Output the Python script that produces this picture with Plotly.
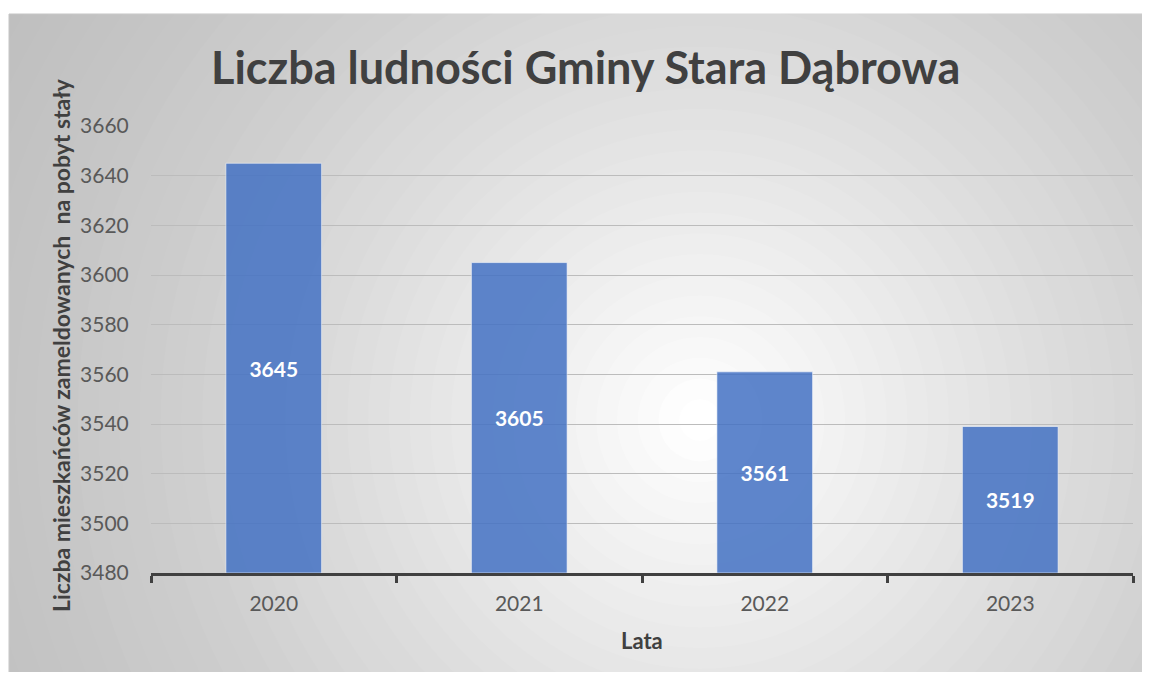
import plotly.graph_objects as go

# ---- data ----
years = ["2020", "2021", "2022", "2023"]
population = [3645, 3605, 3561, 3539]
labels = ["3645", "3605", "3561", "3519"]
y_ticks = [3480, 3500, 3520, 3540, 3560, 3580, 3600, 3620, 3640, 3660]
axis_base = 3480

title_text = "Liczba ludności Gminy Stara Dąbrowa"
y_title = "Liczba mieszkańców zameldowanych\u00a0 na pobyt stały"
x_title = "Lata"

# the page body has an 8px margin; size the figure so the page does not scroll
OFF = 8
W, H = 1142, 664
FONT = "Lato"


def px(x):
    """page x pixel -> paper fraction"""
    return (x - OFF) / W


def py(y):
    """page y pixel -> paper fraction"""
    return 1 - (y - OFF) / H


fig = go.Figure()
fig.add_trace(go.Bar(
    x=years, y=[v - axis_base for v in population], base=axis_base,
    text=labels, customdata=population,
    textposition="inside", insidetextanchor="middle",
    textfont=dict(family=FONT, size=21, color="white", weight="bold"),
    marker=dict(color="#4472C4", opacity=0.85,
                line=dict(color="rgba(255,255,255,0.6)", width=1)),
    width=0.39, hovertemplate="%{x}: %{customdata}<extra></extra>", showlegend=False,
))

# background: gray rectangle with radial white gradient (decorative)
shapes = [dict(type="rect", xref="paper", yref="paper",
               x0=px(9), x1=px(1152), y0=py(690), y1=py(14),
               fillcolor="#bdbdbd", line=dict(color="#c4c4c4", width=1), layer="below")]
cx, cy, R, N = 700, 420, 830, 40
for k in range(N, 0, -1):
    r = R * k / N
    shapes.append(dict(type="circle", xref="paper", yref="paper",
                       x0=px(cx - r), x1=px(cx + r), y0=py(cy + r), y1=py(cy - r),
                       fillcolor="white", opacity=1.0 / k, line=dict(width=0), layer="below"))

annotations = [
    dict(text=f"<b>{title_text}</b>", x=px(585), y=py(67), xref="paper", yref="paper",
         xanchor="center", yanchor="middle", showarrow=False,
         font=dict(family=FONT, size=45, color="#404040")),
    dict(text=f"<b>{y_title}</b>", x=px(61), y=py(345), xref="paper", yref="paper",
         xanchor="center", yanchor="middle", showarrow=False, textangle=-90,
         font=dict(family=FONT, size=23, color="#404040")),
    dict(text=f"<b>{x_title}</b>", x=px(642), y=py(640), xref="paper", yref="paper",
         xanchor="center", yanchor="middle", showarrow=False,
         font=dict(family=FONT, size=22, color="#404040")),
]

fig.update_layout(
    width=W, height=H,
    margin=dict(l=0, r=0, t=0, b=0, pad=0, autoexpand=False),
    paper_bgcolor="white",
    plot_bgcolor="rgba(0,0,0,0)",
    shapes=shapes,
    annotations=annotations,
    font=dict(family=FONT, color="#595959"),
    xaxis=dict(
        domain=[px(151), px(1133)], automargin=False,
        type="category", range=[-0.5, 3.5],
        showline=True, linecolor="#404040", linewidth=3,
        ticks="outside", tickson="boundaries", ticklen=7, tickwidth=2.5, tickcolor="#404040",
        ticklabelstandoff=10,
        tickfont=dict(family=FONT, size=21, color="#595959"),
        showgrid=False, zeroline=False,
    ),
    yaxis=dict(
        domain=[py(573), py(126)], automargin=False,
        range=[3480, 3660], tickvals=y_ticks,
        showgrid=True, gridcolor="#bcbcbc", gridwidth=1,
        showline=False, zeroline=False,
        ticks="outside", ticklen=17, tickcolor="rgba(0,0,0,0)",
        tickfont=dict(family=FONT, size=21, color="#595959"),
    ),
)

fig.write_html("out.html")
